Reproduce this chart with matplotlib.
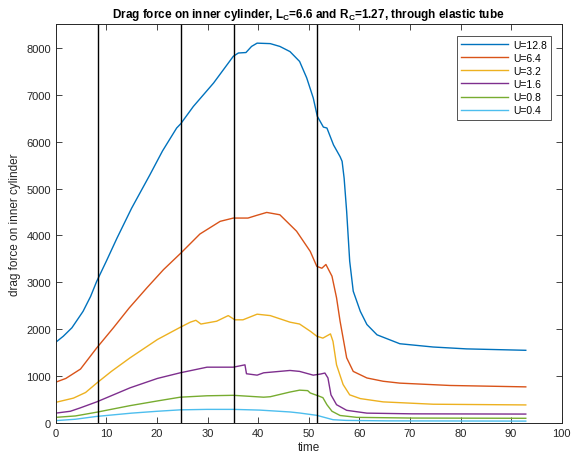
import matplotlib
matplotlib.use("Agg")
import matplotlib.pyplot as plt

plt.rcParams['font.family'] = ['Liberation Sans', 'DejaVu Sans']
plt.rcParams['mathtext.fontset'] = 'custom'
plt.rcParams['mathtext.rm'] = 'Liberation Sans'
plt.rcParams['mathtext.bf'] = 'Liberation Sans:bold'

# ---- data ----
t_u128 = [0, 1.5, 3.2, 5.4, 6.9, 8.1, 10, 12.1, 15, 18.6, 21.1, 23.9, 24.7, 27.2, 31.2, 35.1,
          36.1, 37.6, 38.7, 39.8, 42.4, 44.3, 46.3, 48.2, 49.6, 50.9, 51.7, 52.9, 53.6, 54.9,
          56.2, 56.6, 57.0, 57.5, 58.1, 58.8, 60.2, 61.5, 63.5, 68, 74.6, 81.2, 92.9]
v_u128 = [1720, 1850, 2030, 2380, 2700, 3020, 3450, 3940, 4580, 5290, 5800, 6290, 6380, 6750,
          7250, 7820, 7890, 7900, 8030, 8100, 8090, 8030, 7920, 7710, 7360, 6930, 6540, 6310,
          6290, 5930, 5680, 5580, 5220, 4510, 3450, 2810, 2380, 2100, 1880, 1690, 1620, 1580,
          1550]

t_u64 = [0, 2, 4.9, 8.1, 11.4, 14.5, 18, 21.3, 24.7, 28.5, 32.5, 35.1, 38.0, 39.8, 41.7, 44.3,
         47.6, 50.3, 51.6, 52.6, 53.4, 54.6, 55.5, 56.2, 57.5, 58.8, 61.5, 64.7, 68, 77.9, 92.9]
v_u64 = [870, 950, 1150, 1600, 2030, 2450, 2880, 3270, 3620, 4030, 4300, 4370, 4370, 4430,
         4490, 4440, 4090, 3660, 3340, 3300, 3380, 3130, 2670, 2170, 1390, 1100, 960, 890,
         850, 800, 770]

t_u32 = [0, 3.5, 5.9, 8.1, 11, 14.7, 20.1, 24.6, 26.6, 27.7, 28.2, 28.7, 31.8, 34.1, 35.4,
         37.0, 39.8, 42.4, 46.3, 48.2, 50.4, 51.6, 52.8, 53.8, 54.3, 54.8, 55.5, 56.8, 58.1,
         60.2, 64.7, 74.6, 92.9]
v_u32 = [440, 530, 650, 850, 1100, 1390, 1780, 2040, 2150, 2190, 2150, 2110, 2170, 2290,
         2200, 2200, 2320, 2290, 2150, 2110, 1950, 1850, 1810, 1870, 1900, 1740, 1240, 820,
         600, 520, 450, 400, 385]

t_u16 = [0, 2.9, 4.8, 8.1, 14.7, 20.1, 24.6, 29.9, 35.1, 37.4, 37.7, 39.8, 41.1, 46.3, 48.2,
         50.9, 52.4, 53.2, 53.8, 54.4, 55.5, 57.5, 61.5, 70.5, 92.9]
v_u16 = [210, 250, 320, 450, 750, 950, 1070, 1190, 1190, 1240, 1050, 1020, 1070, 1120, 1100,
         1020, 1045, 1065, 960, 600, 390, 270, 210, 195, 190]

t_u08 = [0, 3.9, 8.1, 14.7, 20.1, 24.6, 29.9, 35.1, 41.1, 42.4, 46.3, 48.2, 49.8, 50.3, 52.1,
         52.8, 53.6, 54.6, 56.2, 59.5, 70.5, 92.9]
v_u08 = [120, 150, 230, 370, 470, 550, 580, 590, 550, 560, 660, 700, 690, 640, 570, 540, 390,
         250, 160, 120, 105, 100]

t_u04 = [0, 3.9, 8.1, 15, 20.1, 24.6, 29.9, 35.1, 40.3, 46.3, 48.2, 51.6, 54.8, 57.4, 65.5, 92.9]
v_u04 = [50, 80, 140, 210, 250, 280, 290, 290, 275, 235, 213, 163, 70, 55, 45, 40]

labels = ['U=12.8', 'U=6.4', 'U=3.2', 'U=1.6', 'U=0.8', 'U=0.4']
colors = ['#0072BD', '#D95319', '#EDB120', '#7E2F8E', '#77AC30', '#4DBEEE']
vlines_t = [8.3, 24.7, 35.2, 51.7]

series = [(t_u128, v_u128), (t_u64, v_u64), (t_u32, v_u32),
          (t_u16, v_u16), (t_u08, v_u08), (t_u04, v_u04)]

fig = plt.figure(figsize=(5.72, 4.60), dpi=100)
ax = fig.add_axes([0.0974, 0.0783, 0.8846, 0.8665])

for (tt, vv), lab, c in zip(series, labels, colors):
    ax.plot(tt, vv, color=c, lw=1.0, label=lab)

for xv in vlines_t:
    ax.axvline(xv, color='black', lw=1.0)

ax.set_xlim(0, 100)
ax.set_ylim(0, 8500)
ax.set_xticks(range(0, 101, 10))
ax.set_yticks(range(0, 8001, 1000))
ax.tick_params(direction='in', top=True, right=True, labelsize=8, length=4, width=0.6,
               colors='#262626', labelcolor='#262626')
for s in ax.spines.values():
    s.set_linewidth(0.7)
    s.set_color('#262626')

ax.set_xlabel('time', fontsize=8.5, color='#262626', labelpad=2)
ax.set_ylabel('drag force on inner cylinder', fontsize=8.5, color='#262626', labelpad=4)
ax.set_title(r'Drag force on inner cylinder, L$_\mathbf{C}$=6.6 and R$_\mathbf{C}$=1.27, through elastic tube',
             fontsize=8.5, fontweight='bold', pad=5)

leg = ax.legend(loc='upper right', fontsize=7.5, frameon=True, fancybox=False,
                edgecolor='#262626', handlelength=4.5, borderpad=0.4, labelspacing=0.3,
                handletextpad=0.5, bbox_to_anchor=(0.99, 0.985))
leg.get_frame().set_linewidth(0.7)

fig.savefig('out.png', dpi=100)
